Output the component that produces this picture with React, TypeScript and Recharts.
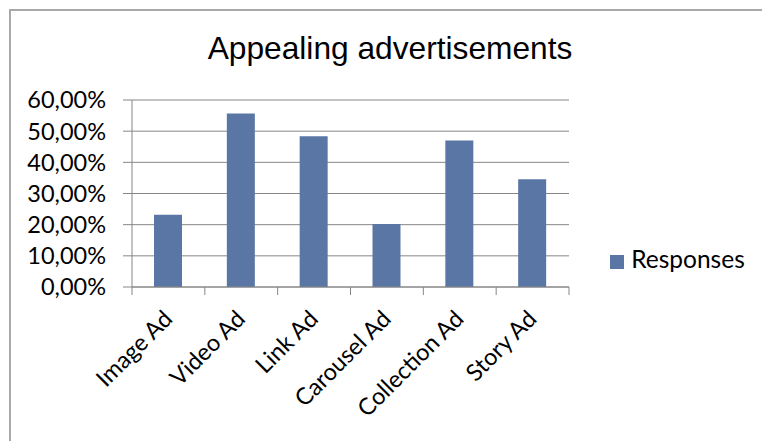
import React from "react";
import { BarChart, Bar, XAxis, YAxis, CartesianGrid, Legend } from "recharts";

// categories and shares
const categories = ["Image Ad", "Video Ad", "Link Ad", "Carousel Ad", "Collection Ad", "Story Ad"];
const responses = [0.232, 0.557, 0.484, 0.202, 0.47, 0.346];
const yTicks = [0, 0.1, 0.2, 0.3, 0.4, 0.5, 0.6];

const data = categories.map((name, i) => ({ name, Responses: responses[i] }));

const BAR_COLOR = "#5A76A5";
const AXIS_COLOR = "#868686";
const LABEL_FONT = "Lato, 'Open Sans', sans-serif";

const fmtPercent = (v: number) => (v * 100).toFixed(2).replace(".", ",") + "%";

// Excel style: tick marks sit between categories, labels turned 45 degrees
const CategoryTick = (props: any) => {
  const { x, y, payload, index, visibleTicksCount } = props;
  const half = payload.offset || 0;
  const last = index === visibleTicksCount - 1;
  const lx = x - 1;
  const ly = y + 19;
  return (
    <g>
      <line x1={x - half} x2={x - half} y1={y - 8} y2={y} stroke={AXIS_COLOR} />
      {last && <line x1={x + half} x2={x + half} y1={y - 8} y2={y} stroke={AXIS_COLOR} />}
      <text
        x={lx}
        y={ly}
        transform={`rotate(-45, ${lx}, ${ly})`}
        textAnchor="end"
        dominantBaseline="central"
        fontFamily={LABEL_FONT}
        fontSize={23.5}
        fill="#000"
      >
        {payload.value}
      </text>
    </g>
  );
};

export default function App() {
  return (
    <div style={{ position: "absolute", left: 0, top: 0, width: 762, height: 441, background: "#fff" }}>
      <div
        style={{
          position: "absolute",
          left: 9,
          top: 9,
          width: 760,
          height: 440,
          borderTop: "2px solid #a9a9a9",
          borderLeft: "2px solid #a9a9a9",
        }}
      />
      <div
        style={{
          position: "absolute",
          left: 0,
          width: 780,
          top: 30,
          textAlign: "center",
          fontFamily: "'Liberation Sans', Arial, sans-serif",
          fontSize: 31.7,
          color: "#000",
        }}
      >
        Appealing advertisements
      </div>
      <BarChart
        width={762}
        height={441}
        data={data}
        margin={{ top: 100, right: 193, bottom: 0, left: 0 }}
        barSize={28}
        style={{ position: "absolute", left: 0, top: 0 }}
      >
        <CartesianGrid vertical={false} stroke={AXIS_COLOR} strokeWidth={1} />
        <XAxis
          dataKey="name"
          interval={0}
          height={154}
          tickLine={false}
          tickSize={8}
          tickMargin={0}
          axisLine={{ stroke: AXIS_COLOR }}
          tick={<CategoryTick />}
        />
        <YAxis
          width={132}
          domain={[0, 0.6]}
          ticks={yTicks}
          tickFormatter={fmtPercent}
          tickSize={9}
          tickMargin={17}
          tickLine={{ stroke: AXIS_COLOR }}
          axisLine={{ stroke: AXIS_COLOR }}
          tick={{ fill: "#000", fontSize: 23.5, fontFamily: LABEL_FONT }}
          interval={0}
        />
        <Legend
          layout="horizontal"
          align="center"
          verticalAlign="middle"
          iconType="square"
          iconSize={14}
          wrapperStyle={{ left: 603, top: 244, width: 159, fontFamily: LABEL_FONT, fontSize: 24.5 }}
          formatter={(v: string) => <span style={{ color: "#000", marginLeft: 3 }}>{v}</span>}
        />
        <Bar dataKey="Responses" fill={BAR_COLOR} isAnimationActive={false} />
      </BarChart>
    </div>
  );
}
